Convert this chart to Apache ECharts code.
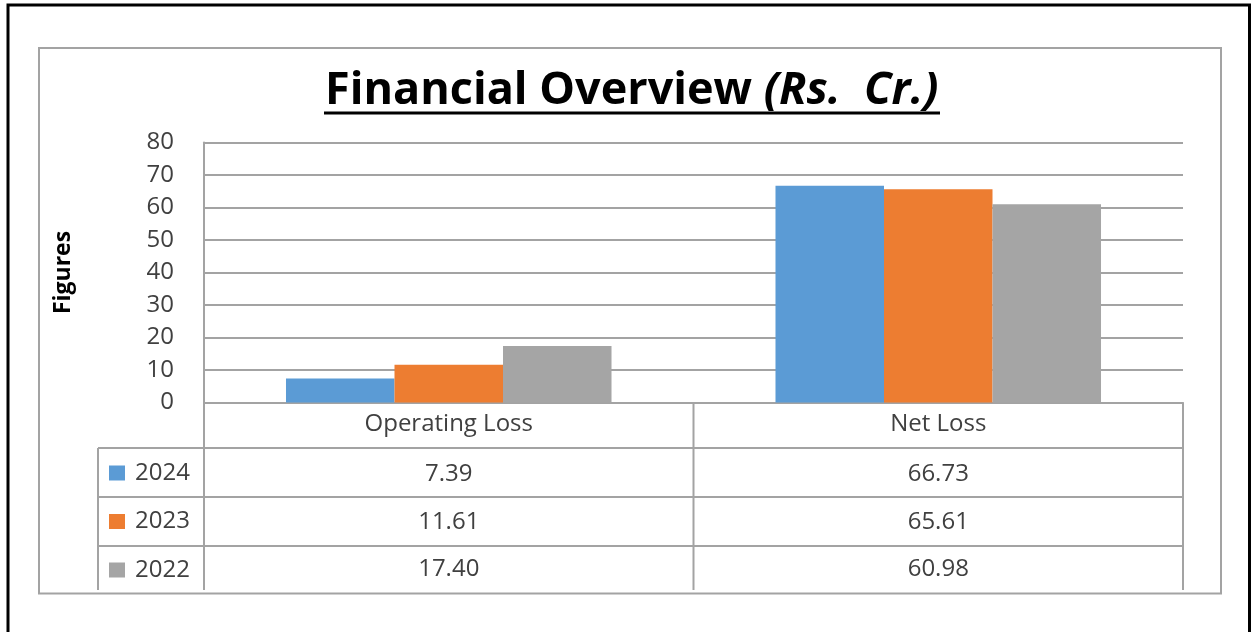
<!DOCTYPE html>
<html>
<head>
<meta charset="utf-8">
<script src="https://cdn.jsdelivr.net/npm/echarts@6/dist/echarts.min.js"></script>
<style>
html,body{margin:0;padding:0;background:#fff;}
#chart{width:1251px;height:632px;}
</style>
</head>
<body>
<div id="chart"></div>
<script>
// ---- data ----
var categories = ['Operating Loss', 'Net Loss'];
var seriesNames = ['2024', '2023', '2022'];
var values2024 = [7.39, 66.73];
var values2023 = [11.61, 65.61];
var values2022 = [17.40, 60.98];
var colors = ['#5B9BD5', '#ED7D31', '#A5A5A5'];
var yTicks = [0, 10, 20, 30, 40, 50, 60, 70, 80];

// ---- layout ----
var W = 1251, H = 632;
var GL = 204, GR = 1183, GT = 142.5, GB = 402.5;
var ROW1 = 448, ROW2 = 497, ROW3 = 546, TBOT = 590, LEGX = 98;
var FONT = '"Open Sans", "Noto Sans", sans-serif';
var LINE = '#a3a3a3';
var TXT = '#404040';

var chart = echarts.init(document.getElementById('chart'), null, {renderer: 'canvas'});

var allVals = [values2024, values2023, values2022];
var series = seriesNames.map(function (n, i) {
  return {
    name: n, type: 'bar', data: allVals[i],
    itemStyle: {color: colors[i]},
    barGap: '0%', barCategoryGap: '33.5%'
  };
});

function fmt(arr) {
  return function (v, idx) { return arr[idx].toFixed(2); };
}
var rowCenters = [474 - GB, 522 - GB, 569.5 - GB];

var xAxes = [{
  type: 'category', data: categories, gridIndex: 0, position: 'bottom',
  axisLine: {show: true, lineStyle: {color: LINE, width: 2}},
  axisTick: {show: false},
  axisLabel: {margin: 22, verticalAlign: 'middle', fontFamily: FONT, fontSize: 24, color: TXT}
}];
allVals.forEach(function (arr, i) {
  xAxes.push({
    type: 'category', data: categories, gridIndex: 0, position: 'bottom',
    axisLine: {show: false}, axisTick: {show: false},
    axisLabel: {margin: rowCenters[i], verticalAlign: 'middle', fontFamily: FONT, fontSize: 24, color: TXT, formatter: fmt(arr)}
  });
});

var g = [];
function ln(x1, y1, x2, y2, c, w) {
  g.push({type: 'line', shape: {x1: x1, y1: y1, x2: x2, y2: y2}, style: {stroke: c, lineWidth: w}, silent: true});
}
// outer and inner frames
g.push({type: 'rect', shape: {x: 8, y: 5, width: 1241.5, height: 700}, style: {fill: null, stroke: '#000', lineWidth: 3}, silent: true});
g.push({type: 'rect', shape: {x: 39, y: 48, width: 1182, height: 545.5}, style: {fill: null, stroke: LINE, lineWidth: 2}, silent: true});
// table lines
[ROW1, ROW2, ROW3].forEach(function (y) { ln(LEGX, y, GR, y, LINE, 2); });
ln(LEGX, ROW1, LEGX, TBOT, LINE, 2);
ln(GL, GB, GL, TBOT, LINE, 2);
ln((GL + GR) / 2, GB, (GL + GR) / 2, TBOT, LINE, 2);
ln(GR, GB, GR, TBOT, LINE, 2);
// title underline
ln(324, 113, 940, 113, '#000', 3);

chart.setOption({
  animation: false,
  backgroundColor: '#fff',
  title: {
    text: '{a|Financial Overview }{b|(Rs.  Cr.)}',
    left: 325, top: 69, padding: 0,
    textStyle: {
      rich: {
        a: {fontFamily: FONT, fontSize: 45, fontWeight: 'bold', color: '#000'},
        b: {fontFamily: FONT, fontSize: 45, fontWeight: 'bold', fontStyle: 'italic', color: '#000'}
      }
    }
  },
  legend: {
    orient: 'vertical', left: 109, top: 461, padding: 0,
    itemWidth: 16, itemHeight: 15, itemGap: 24.5, icon: 'rect',
    data: seriesNames,
    textStyle: {fontFamily: FONT, fontSize: 24, color: TXT, lineHeight: 24, padding: [0, 0, 0, 5]}
  },
  grid: {left: GL, right: W - GR, top: GT, bottom: H - GB, containLabel: false},
  xAxis: xAxes,
  yAxis: {
    type: 'value', min: 0, max: 80, interval: 10,
    name: 'Figures', nameLocation: 'middle', nameGap: 129, nameRotate: 90,
    nameTextStyle: {fontFamily: FONT, fontSize: 23, fontWeight: 'bold', color: '#000'},
    axisLine: {show: true, lineStyle: {color: LINE, width: 2}},
    axisTick: {show: false},
    splitLine: {lineStyle: {color: LINE, width: 2}},
    axisLabel: {margin: 30, fontFamily: FONT, fontSize: 24, color: TXT,
      formatter: function (v) { return yTicks.indexOf(v) >= 0 ? String(v) : ''; }}
  },
  series: series,
  graphic: g
});
</script>
</body>
</html>
